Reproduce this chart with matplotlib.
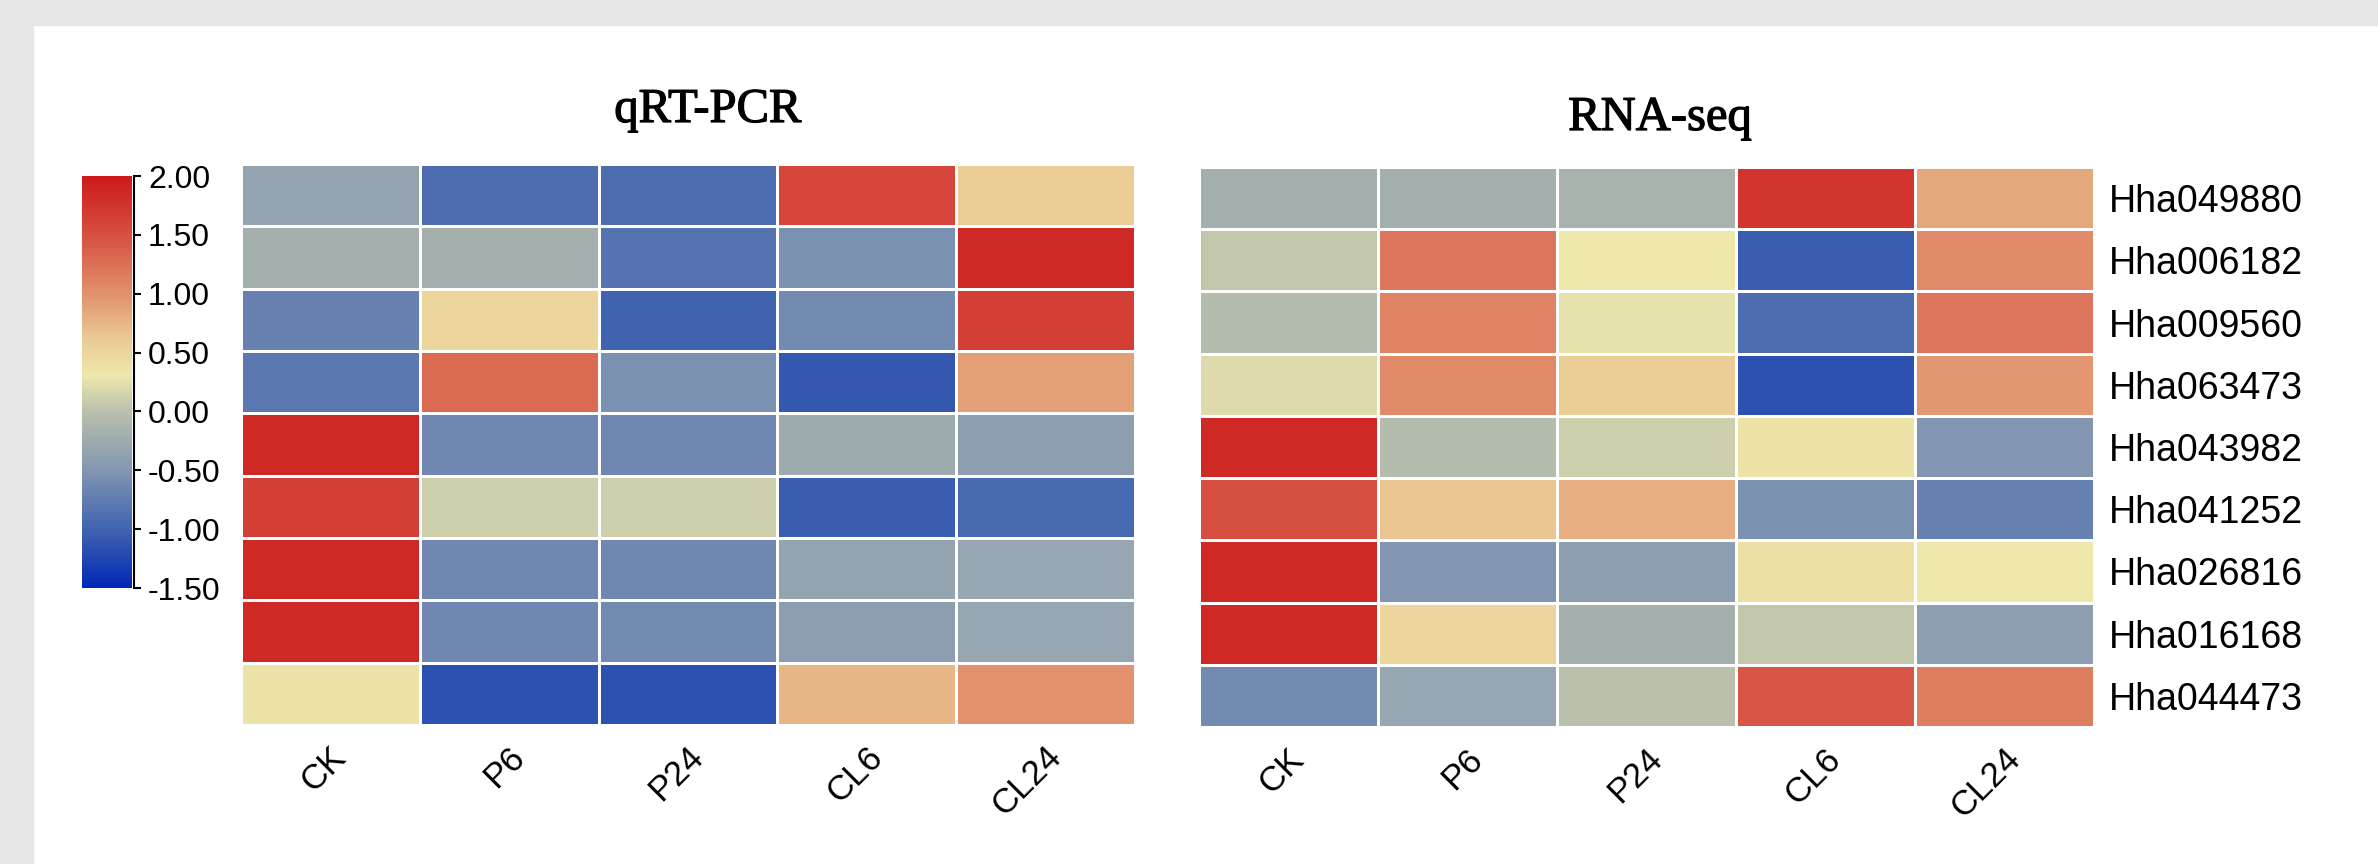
import numpy as np
import matplotlib.pyplot as plt
from matplotlib.colors import LinearSegmentedColormap
from matplotlib.patches import Rectangle
import matplotlib.transforms as mtransforms
import matplotlib.patheffects as pe

# data
genes = ['Hha049880', 'Hha006182', 'Hha009560', 'Hha063473', 'Hha043982',
         'Hha041252', 'Hha026816', 'Hha016168', 'Hha044473']
samples = ['CK', 'P6', 'P24', 'CL6', 'CL24']

qpcr = [
    [-0.35, -0.90, -0.90, 1.60, 0.60],
    [-0.20, -0.20, -0.85, -0.55, 1.85],
    [-0.70, 0.50, -1.00, -0.60, 1.65],
    [-0.80, 1.30, -0.55, -1.10, 0.90],
    [1.85, -0.65, -0.65, -0.25, -0.40],
    [1.65, 0.10, 0.10, -1.05, -0.95],
    [1.85, -0.65, -0.65, -0.35, -0.30],
    [1.85, -0.65, -0.60, -0.40, -0.30],
    [0.35, -1.15, -1.15, 0.75, 1.00],
]

rnaseq = [
    [-0.20, -0.20, -0.15, 1.75, 0.85],
    [0.05, 1.20, 0.30, -1.05, 1.05],
    [-0.05, 1.10, 0.25, -0.90, 1.20],
    [0.20, 1.05, 0.60, -1.15, 0.95],
    [1.85, -0.05, 0.10, 0.35, -0.50],
    [1.50, 0.65, 0.80, -0.55, -0.70],
    [1.85, -0.50, -0.40, 0.40, 0.30],
    [1.85, 0.50, -0.20, 0.05, -0.40],
    [-0.60, -0.30, 0.00, 1.45, 1.15],
]

cbar_ticks = [2.0, 1.5, 1.0, 0.5, 0.0, -0.5, -1.0, -1.5]
vmin, vmax = -1.5, 2.0

# colour scale (blue - grey - pale yellow - red)
stops = [(-1.5, '#0028b4'), (-1.0, '#4164af'), (-0.5, '#8296b2'),
         (0.0, '#b9c0ac'), (0.3, '#eee8ac'), (0.6, '#ebcd96'),
         (1.0, '#e1916e'), (1.5, '#d75041'), (2.0, '#cc1a1c')]
cmap = LinearSegmentedColormap.from_list(
    'expr', [((v - vmin) / (vmax - vmin), c) for v, c in stops])

W, H = 2378, 864
fig = plt.figure(figsize=(W / 100, H / 100), dpi=100)

# textured border of the scan, top and left
fig.patches.append(Rectangle((0, 1 - 25 / H), 1, 25 / H, transform=fig.transFigure,
                             color='#e6e6e6', zorder=0))
fig.patches.append(Rectangle((0, 0), 33 / W, 1, transform=fig.transFigure,
                             color='#e6e6e6', zorder=0))

def px_box(x0, y0, x1, y1):
    return [x0 / W, 1 - y1 / H, (x1 - x0) / W, (y1 - y0) / H]

ax1 = fig.add_axes(px_box(241, 164, 1135, 725))
ax2 = fig.add_axes(px_box(1199, 167, 2094, 727))
cax = fig.add_axes(px_box(82, 176, 132, 588))

sans = 'Liberation Sans'
serif = 'Liberation Serif'
shift = mtransforms.ScaledTranslation(0.22, 0, fig.dpi_scale_trans)

for ax, data in [(ax1, qpcr), (ax2, rnaseq)]:
    mesh = ax.pcolormesh(np.array(data), cmap=cmap, vmin=vmin, vmax=vmax,
                         edgecolors='white', linewidth=2)
    ax.set_xlim(0, len(samples))
    ax.set_ylim(len(genes), 0)
    for s in ax.spines.values():
        s.set_visible(False)
    ax.set_xticks(np.arange(len(samples)) + 0.5)
    ax.set_xticklabels(samples, rotation=45, ha='right', va='top',
                       fontsize=25, family=sans)
    ax.tick_params(axis='x', length=0, pad=11)
    for lab in ax.get_xticklabels():
        lab.set_transform(lab.get_transform() + shift)
    ax.set_yticks([])

ax2.yaxis.tick_right()
ax2.set_yticks(np.arange(len(genes)) + 0.5)
ax2.set_yticklabels(genes, fontsize=27, family=sans)
ax2.tick_params(axis='y', length=0, pad=11)

# titles: regular serif, slightly thickened like the scan
thick = [pe.withStroke(linewidth=0.9, foreground='black')]
fig.text(708 / W, 1 - 122 / H, 'qRT-PCR', ha='center', va='baseline',
         family=serif, fontsize=35, path_effects=thick)
fig.text(1660 / W, 1 - 130 / H, 'RNA-seq', ha='center', va='baseline',
         family=serif, fontsize=35, path_effects=thick)

cb = fig.colorbar(mesh, cax=cax, ticks=cbar_ticks, format='%.2f')
cb.outline.set_visible(False)
cax.spines['right'].set_visible(True)
cax.spines['right'].set_position(('outward', 1.5))
cax.spines['right'].set_linewidth(1.5)
cax.tick_params(length=5, width=1.5, pad=5, labelsize=23)
for lab in cax.get_yticklabels():
    lab.set_family(sans)

fig.savefig('out.png', dpi=100)
